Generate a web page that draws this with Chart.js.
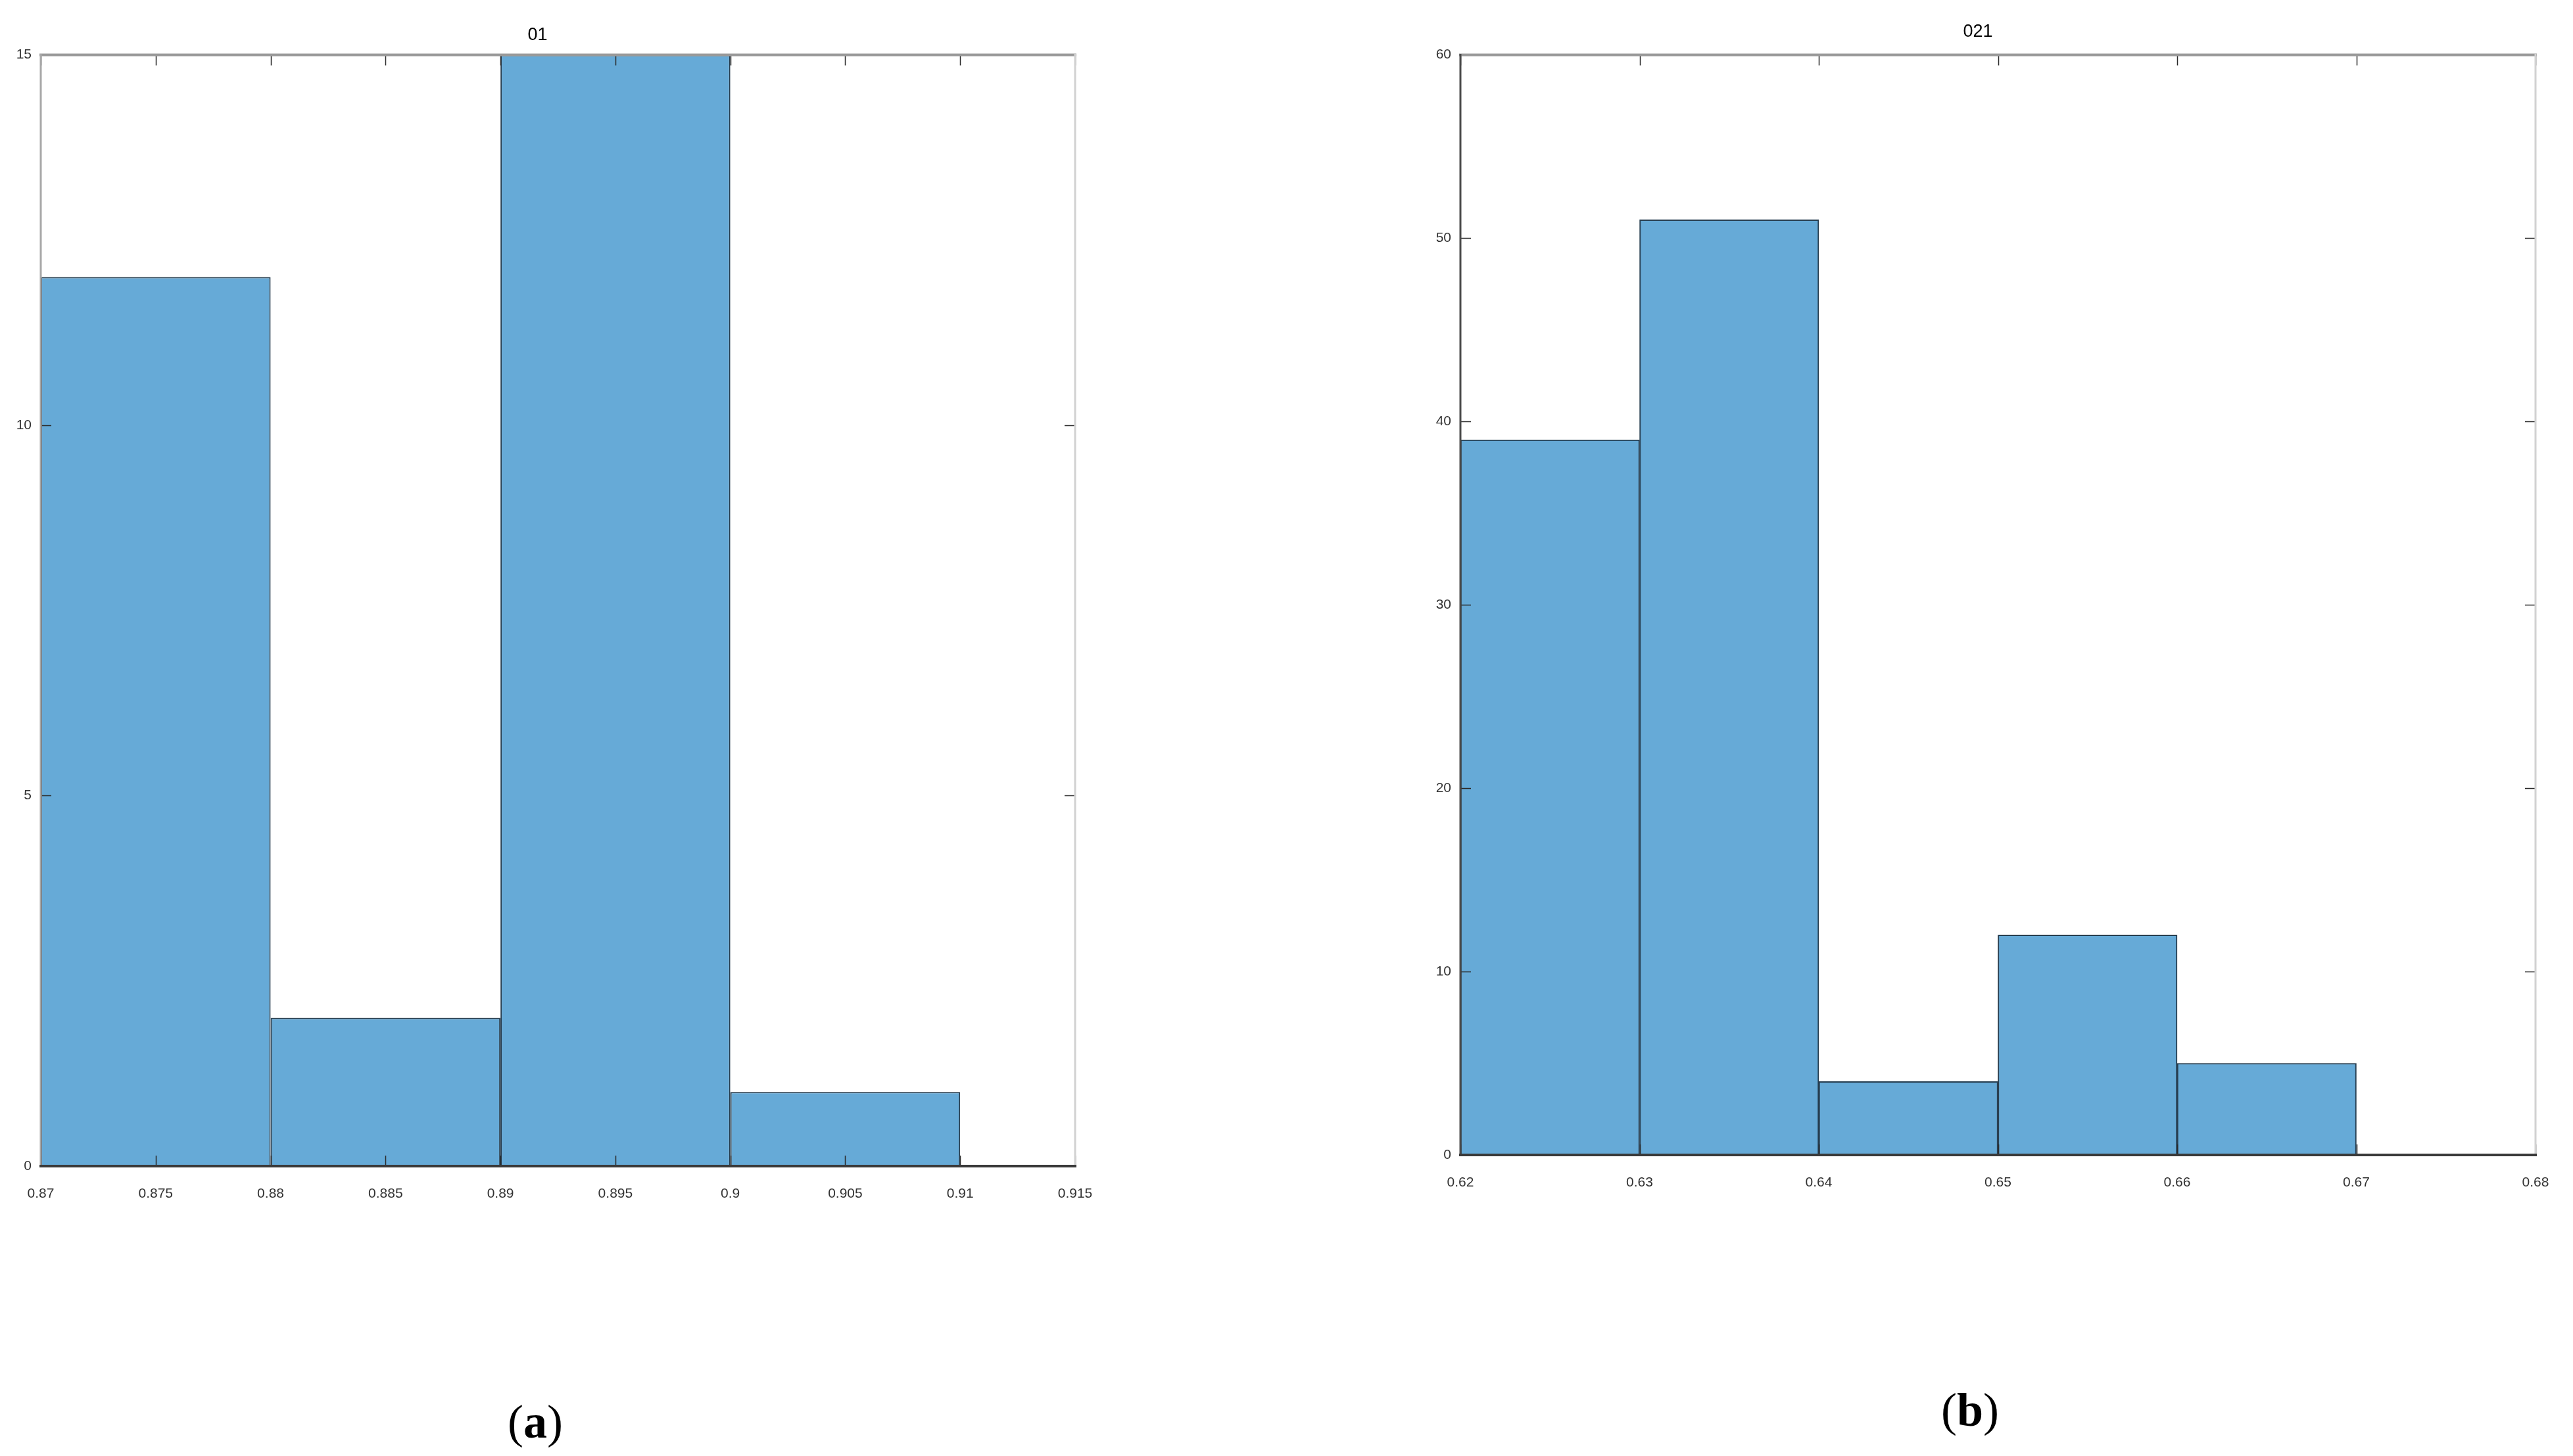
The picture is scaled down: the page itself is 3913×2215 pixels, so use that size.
<!DOCTYPE html>
<html>
<head>
<meta charset="utf-8">
<script src="https://cdn.jsdelivr.net/npm/chart.js@4.4.0/dist/chart.umd.min.js"></script>
<style>
  html, body { margin: 0; padding: 0; background: #fff; }
  body { width: 3913px; height: 2215px; position: relative; overflow: hidden; }
  .box { position: absolute; }
  .cap { position: absolute; font-family: "Liberation Serif", "Times New Roman", serif; font-size: 72px; line-height: 72px; color: #000; width: 200px; text-align: center; }
  .cap b { font-weight: bold; }
</style>
</head>
<body>
<div class="box" id="boxA" style="left:0px;top:0px;width:1700px;height:1900px;"><canvas id="chartA"></canvas></div>
<div class="box" id="boxB" style="left:2100px;top:0px;width:1813px;height:1900px;"><canvas id="chartB"></canvas></div>
<div class="cap" style="left:714px;top:2127px;">(<b>a</b>)</div>
<div class="cap" style="left:2896px;top:2109px;">(<b>b</b>)</div>

<script>
// histogram (a): bin edges and counts
var titleA = '01';
var edgesA = [0.87, 0.88, 0.89, 0.90, 0.91];
var countsA = [12, 2, 15, 1];
var xTicksA = [0.87, 0.875, 0.88, 0.885, 0.89, 0.895, 0.9, 0.905, 0.91, 0.915];
var xLabelsA = ['0.87', '0.875', '0.88', '0.885', '0.89', '0.895', '0.9', '0.905', '0.91', '0.915'];
var yTicksA = [0, 5, 10, 15];

// histogram (b)
var titleB = '021';
var edgesB = [0.62, 0.63, 0.64, 0.65, 0.66, 0.67];
var countsB = [39, 51, 4, 12, 5];
var xTicksB = [0.62, 0.63, 0.64, 0.65, 0.66, 0.67, 0.68];
var xLabelsB = ['0.62', '0.63', '0.64', '0.65', '0.66', '0.67', '0.68'];
var yTicksB = [0, 10, 20, 30, 40, 50, 60];

var barFill = '#66aad7';
var barEdge = '#263d4f';

//draws the matlab style box and the inward tick marks
var boxPlugin = {
  id: 'matlabBox',
  afterDatasetsDraw: function(chart, args, opts) {
    var ctx = chart.ctx;
    var a = chart.chartArea;
    var xs = chart.scales.x, ys = chart.scales.y;
    var len = 16;
    ctx.save();
    ctx.strokeStyle = '#2a2a2a';
    ctx.lineWidth = 1.5;
    xs.ticks.forEach(function(t) {
      var px = Math.round(xs.getPixelForValue(t.value)) + 0.5;
      ctx.beginPath();
      ctx.moveTo(px, a.bottom); ctx.lineTo(px, a.bottom - len);
      ctx.moveTo(px, a.top); ctx.lineTo(px, a.top + len);
      ctx.stroke();
    });
    ys.ticks.forEach(function(t) {
      var py = Math.round(ys.getPixelForValue(t.value)) + 0.5;
      ctx.beginPath();
      ctx.moveTo(a.left, py); ctx.lineTo(a.left + len, py);
      ctx.moveTo(a.right, py); ctx.lineTo(a.right - len, py);
      ctx.stroke();
    });
    // frame
    ctx.lineCap = 'square';
    function seg(x1, y1, x2, y2, c, w) {
      ctx.strokeStyle = c; ctx.lineWidth = w;
      ctx.beginPath(); ctx.moveTo(x1, y1); ctx.lineTo(x2, y2); ctx.stroke();
    }
    seg(a.left, a.top, a.right, a.top, '#9a9a9a', 4);
    seg(a.right, a.top, a.right, a.bottom, '#d2d2d2', 3);
    seg(a.left, a.top, a.left, a.bottom, opts.leftColor, 3);
    seg(a.left, a.bottom, a.right, a.bottom, '#3a3a3a', 4);
    ctx.restore();
  }
};

function makeHist(id, title, edges, counts, xTicks, xLabels, yTicks, geo) {
  var pts = counts.map(function(c, i) {
    return { x: (edges[i] + edges[i + 1]) / 2, y: c };
  });
  // chart.js sizes bars from the smallest tick gap, so stretch to one bin
  var binW = edges[1] - edges[0];
  var tickGap = xTicks[1] - xTicks[0];
  return new Chart(document.getElementById(id), {
    type: 'bar',
    data: {
      datasets: [{
        data: pts,
        backgroundColor: barFill,
        borderColor: barEdge,
        borderWidth: 2,
        barPercentage: binW / tickGap,
        categoryPercentage: 1
      }]
    },
    options: {
      responsive: true,
      maintainAspectRatio: false,
      animation: false,
      layout: { padding: { left: geo.padLeft, right: geo.padRight, top: 0, bottom: 0 } },
      plugins: {
        legend: { display: false },
        tooltip: { enabled: false },
        title: {
          display: true,
          text: title,
          color: '#000',
          font: { family: 'Liberation Sans', size: 27, weight: 'normal' },
          padding: { top: geo.titleTop, bottom: geo.titleBottom }
        },
        matlabBox: { leftColor: geo.leftColor }
      },
      scales: {
        x: {
          type: 'linear',
          offset: false,
          min: xTicks[0],
          max: xTicks[xTicks.length - 1],
          afterBuildTicks: function(s) { s.ticks = xTicks.map(function(v) { return { value: v }; }); },
          afterFit: function(s) { s.height = geo.xAxisH; },
          grid: { display: false, offset: false },
          border: { display: false },
          ticks: {
            autoSkip: false,
            maxRotation: 0,
            color: '#333',
            padding: 22,
            font: { family: 'Liberation Sans', size: 21 },
            callback: function(v, i) { return xLabels[i]; }
          }
        },
        y: {
          min: yTicks[0],
          max: yTicks[yTicks.length - 1],
          afterBuildTicks: function(s) { s.ticks = yTicks.map(function(v) { return { value: v }; }); },
          afterFit: function(s) { s.width = geo.yAxisW; },
          grid: { display: false },
          border: { display: false },
          ticks: {
            color: '#333',
            padding: 6,
            font: { family: 'Liberation Sans', size: 21 }
          }
        }
      }
    },
    plugins: [boxPlugin]
  });
}

makeHist('chartA', titleA, edgesA, countsA, xTicksA, xLabelsA, yTicksA,
  { padLeft: 0, padRight: 65, yAxisW: 62, xAxisH: 126, titleTop: 37, titleBottom: 14, leftColor: '#a8a8a8' });
makeHist('chartB', titleB, edgesB, countsB, xTicksB, xLabelsB, yTicksB,
  { padLeft: 60, padRight: 57, yAxisW: 61, xAxisH: 143, titleTop: 32, titleBottom: 19, leftColor: '#4a4a4a' });
</script>
</body>
</html>
